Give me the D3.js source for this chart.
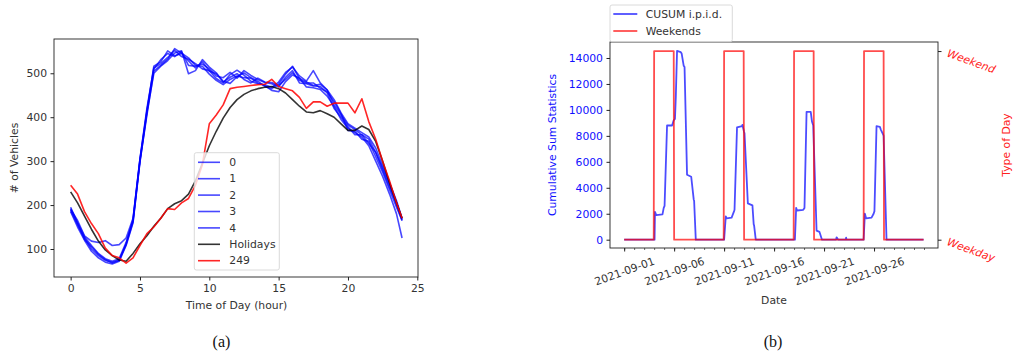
<!DOCTYPE html>
<html><head><meta charset="utf-8">
<script src="https://cdn.jsdelivr.net/npm/d3@7"></script>
<style>
body{margin:0;background:#fff;}
svg{display:block;font-family:"DejaVu Sans",sans-serif;}
</style></head>
<body><svg id="c" width="1013" height="355"></svg>
<script>
// ---------- Chart (a) data ----------
const hours = [0,0.5,1,1.5,2,2.5,3,3.5,4,4.5,5,5.5,6,6.5,7,7.5,8,8.5,9,9.5,10,10.5,11,11.5,12,12.5,13,13.5,14,14.5,15,15.5,16,16.5,17,17.5,18,18.5,19,19.5,20,20.5,21,21.5,22,22.5,23,23.5,23.9];
const weekday0 = [190,165,130,118,115,119,108,110,125,170,305,420,512,522,536,552,538,532,522,510,506,488,478,497,507,496,482,476,474,468,480,502,514,494,482,506,478,462,428,405,382,372,360,350,320,285,245,200,165];
const weekday1 = [185,150,120,95,80,70,66,72,108,160,300,405,505,518,532,556,546,535,518,516,498,484,474,486,494,490,489,478,472,461,458,481,496,489,469,467,463,448,424,395,375,365,355,335,300,265,225,180,125];
const weekday2 = [195,160,128,108,90,78,72,78,115,165,305,415,510,531,545,538,549,518,516,521,510,494,490,502,489,506,495,486,479,476,469,491,506,478,476,471,470,455,420,400,378,360,360,340,320,280,240,205,168];
const weekday3 = [188,155,125,100,85,74,70,75,110,162,298,410,500,516,529,546,551,499,506,531,514,501,480,491,499,486,478,489,480,479,472,486,501,484,478,478,466,458,435,408,370,368,350,345,310,275,235,195,165];
const weekday4 = [192,158,122,105,88,76,68,74,112,168,302,412,516,526,551,540,545,528,512,526,505,499,482,477,492,501,490,482,470,465,475,498,516,488,480,472,475,462,440,410,385,375,365,355,330,290,250,210,170];
const holidays = [230,205,175,145,118,98,85,75,72,90,112,130,152,170,192,203,210,225,255,295,335,368,398,422,440,452,460,465,468,470,465,455,440,425,412,410,415,408,400,385,370,370,380,372,345,300,250,205,170];
const day249  = [245,225,185,158,135,102,85,80,68,80,108,135,150,170,192,190,205,215,245,292,385,405,428,465,468,470,472,474,475,486,470,465,460,445,420,435,435,425,432,432,432,410,442,390,350,300,255,205,170];
const seriesA = [
  {name:"0", values:weekday0, color:"#0000ff", op:0.72},
  {name:"1", values:weekday1, color:"#0000ff", op:0.72},
  {name:"2", values:weekday2, color:"#0000ff", op:0.72},
  {name:"3", values:weekday3, color:"#0000ff", op:0.72},
  {name:"4", values:weekday4, color:"#0000ff", op:0.72},
  {name:"Holidays", values:holidays, color:"#000000", op:0.8},
  {name:"249", values:day249, color:"#ff0000", op:0.85}
];
const xTicksA = [0,5,10,15,20,25];
const yTicksA = [100,200,300,400,500];

// ---------- Chart (b) data ----------
const cusumTimes = ["2021-09-01T00","2021-09-04T01","2021-09-04T02","2021-09-04T05","2021-09-04T20","2021-09-04T23","2021-09-05T01","2021-09-05T07","2021-09-05T19","2021-09-05T23","2021-09-06T02","2021-09-06T04","2021-09-06T07","2021-09-06T16","2021-09-06T18","2021-09-06T23","2021-09-07T01","2021-09-07T07","2021-09-07T17","2021-09-07T23","2021-09-08T00","2021-09-08T04",
  "2021-09-11T00","2021-09-11T04","2021-09-11T06","2021-09-11T18","2021-09-12T00","2021-09-12T01","2021-09-12T07","2021-09-12T19","2021-09-12T20","2021-09-13T00","2021-09-13T01","2021-09-13T09","2021-09-13T20","2021-09-13T23","2021-09-14T00","2021-09-14T04",
  "2021-09-18T02","2021-09-18T05","2021-09-18T07","2021-09-18T22","2021-09-19T01","2021-09-19T06","2021-09-19T16","2021-09-19T19","2021-09-19T22","2021-09-20T06","2021-09-20T13","2021-09-20T14","2021-09-20T19",
  "2021-09-22T05","2021-09-22T06","2021-09-22T08","2021-09-22T10","2021-09-23T04","2021-09-23T05","2021-09-23T06",
  "2021-09-24T23","2021-09-25T02","2021-09-25T05","2021-09-25T18","2021-09-25T23","2021-09-26T01","2021-09-26T06","2021-09-26T14","2021-09-26T16","2021-09-26T22","2021-09-26T23","2021-09-27T06","2021-09-30T23"];
const cusumValues = [0,0,2150,1900,1950,2450,2600,8800,8800,9200,9300,11000,14550,14450,14350,13400,13300,5000,4850,3100,3000,0,
  0,1800,1650,1700,2200,2300,8650,8750,8850,8300,8200,2800,2650,1200,1100,0,
  0,2450,2250,2300,2450,9850,9850,9100,8800,700,600,500,0,
  0,180,100,0,0,150,0,
  0,2000,1650,1700,2000,2200,8750,8700,8500,8100,8000,0,0];
const weekendTimes = ["2021-09-01T00","2021-09-03T23","2021-09-04T00","2021-09-05T23","2021-09-06T00","2021-09-10T23","2021-09-11T00","2021-09-12T23","2021-09-13T00","2021-09-17T23","2021-09-18T00","2021-09-19T23","2021-09-20T00","2021-09-24T23","2021-09-25T00","2021-09-26T23","2021-09-27T00","2021-09-30T23"];
const weekendValues = [0,0,1,1,0,0,1,1,0,0,1,1,0,0,1,1,0,0];
const dateTicks = ["2021-09-01","2021-09-06","2021-09-11","2021-09-16","2021-09-21","2021-09-26"];
const cusumTicks = [0,2000,4000,6000,8000,10000,12000,14000];
const dayTypeTicks = [0,1];
const dayTypeLabels = ["Weekday","Weekend"];

// ---------- drawing ----------
const svg = d3.select("#c");
const FS = 10.8;
const axisCol = "#222";
const parse = s => new Date(s.length===10 ? s+"T00:00:00Z" : s+":00:00Z");

function styleAxis(g, col){
  g.select(".domain").remove();
  g.selectAll(".tick line").attr("stroke", axisCol);
  g.selectAll(".tick text").attr("fill", col || "#333").style("font-size", FS+"px").style("font-family","DejaVu Sans");
}

// ===== (a) =====
const A = {l:54, r:418, t:39, b:277};
const xa = d3.scaleLinear().domain([-1.2, 25.05]).range([A.l, A.r]);
const ya = d3.scaleLinear().domain([36.3, 578]).range([A.b, A.t]);
const ga = svg.append("g");
ga.append("g").attr("transform",`translate(0,${A.b})`)
  .call(d3.axisBottom(xa).tickValues(xTicksA).tickSize(3.5).tickPadding(3.5).tickFormat(d3.format("d")))
  .call(g=>styleAxis(g));
ga.append("g").attr("transform",`translate(${A.l},0)`)
  .call(d3.axisLeft(ya).tickValues(yTicksA).tickSize(3.5).tickPadding(3.5).tickFormat(d3.format("d")))
  .call(g=>styleAxis(g));
svg.append("clipPath").attr("id","clipA").append("rect")
  .attr("x",A.l).attr("y",A.t).attr("width",A.r-A.l).attr("height",A.b-A.t);
const lineA = d3.line().x((d,i)=>xa(hours[i])).y(d=>ya(d)).curve(d3.curveLinear);
ga.append("g").attr("clip-path","url(#clipA)").selectAll("path").data(seriesA).join("path")
  .attr("d", d=>lineA(d.values)).attr("fill","none").attr("stroke",d=>d.color)
  .attr("stroke-opacity",d=>d.op).attr("stroke-width",1.6).attr("stroke-linejoin","round");
ga.append("rect").attr("x",A.l).attr("y",A.t).attr("width",A.r-A.l).attr("height",A.b-A.t)
  .attr("fill","none").attr("stroke",axisCol).attr("stroke-width",0.9);
// legend
const LA = {x:194.3, y:152.7, w:85, h:117.3};
const lga = ga.append("g");
lga.append("rect").attr("x",LA.x).attr("y",LA.y).attr("width",LA.w).attr("height",LA.h)
  .attr("rx",2).attr("fill","#fff").attr("fill-opacity",0.8).attr("stroke","#d0d0d0").attr("stroke-width",0.8);
seriesA.forEach((s,i)=>{
  const yy = 162.3 + i*16.4;
  lga.append("line").attr("x1",198).attr("x2",220).attr("y1",yy).attr("y2",yy)
    .attr("stroke",s.color).attr("stroke-opacity",s.op).attr("stroke-width",1.6);
  lga.append("text").attr("x",229.3).attr("y",yy).attr("dy","0.35em").text(s.name)
    .attr("fill","#333").style("font-size",FS+"px");
});
ga.append("text").attr("x",236.5).attr("y",305).attr("text-anchor","middle").attr("dominant-baseline","central")
  .attr("fill","#333").style("font-size",FS+"px").text("Time of Day (hour)");
ga.append("text").attr("transform","translate(14,158) rotate(-90)").attr("text-anchor","middle").attr("dominant-baseline","central")
  .attr("fill","#333").style("font-size",FS+"px").text("# of Vehicles");

// ===== (b) =====
const B = {l:610, r:938, t:42, b:248};
const xb = d3.scaleUtc().domain([parse("2021-08-30T14"), new Date(Date.UTC(2021,9,2,9,36))]).range([B.l, B.r]);
const yb = d3.scaleLinear().domain([-640, 15232]).range([B.b, B.t]);
const yb2 = d3.scaleLinear().domain([-0.044, 1.048]).range([B.b, B.t]);
const gb = svg.append("g");
const minorDays = d3.utcDay.range(parse("2021-09-01"), parse("2021-10-01T01"));
gb.append("g").attr("transform",`translate(0,${B.b})`)
  .call(d3.axisBottom(xb).tickValues(minorDays).tickSize(2).tickFormat(""))
  .call(g=>{g.select(".domain").remove(); g.selectAll(".tick line").attr("stroke",axisCol).attr("stroke-width",0.7);});
const gx = gb.append("g").attr("transform",`translate(0,${B.b})`)
  .call(d3.axisBottom(xb).tickValues(dateTicks.map(parse)).tickSize(3.5).tickFormat(d3.utcFormat("%Y-%m-%d")))
  .call(g=>styleAxis(g));
gx.selectAll(".tick text").attr("y",0).attr("dy",null).attr("dominant-baseline","central")
  .attr("transform","translate(0,23.5) rotate(-20)");
gb.append("g").attr("transform",`translate(${B.l},0)`)
  .call(d3.axisLeft(yb).tickValues(cusumTicks).tickSize(3.5).tickPadding(3.5).tickFormat(d3.format("d")))
  .call(g=>styleAxis(g,"#1010ff"));
gb.append("g").attr("transform",`translate(${B.r},0)`)
  .call(d3.axisRight(yb2).tickValues(dayTypeTicks).tickSize(3.5).tickFormat(""))
  .call(g=>styleAxis(g));
dayTypeTicks.forEach((v,i)=>{
  gb.append("text").attr("transform",`translate(${B.r+10},${yb2(v)}) rotate(20)`)
    .attr("x",0).attr("y",0).attr("dy","0.5em").attr("fill","#ff2020").style("font-size",FS+"px")
    .style("font-style","italic").text(dayTypeLabels[i]);
});
svg.append("clipPath").attr("id","clipB").append("rect")
  .attr("x",B.l).attr("y",B.t).attr("width",B.r-B.l).attr("height",B.b-B.t);
const cusumPts = cusumTimes.map((t,i)=>[parse(t), cusumValues[i]]);
const weekendPts = weekendTimes.map((t,i)=>[parse(t), weekendValues[i]]);
const pb = gb.append("g").attr("clip-path","url(#clipB)");
pb.append("path").attr("d", d3.line().x(d=>xb(d[0])).y(d=>yb(d[1]))(cusumPts))
  .attr("fill","none").attr("stroke","#0000ff").attr("stroke-opacity",0.7).attr("stroke-width",1.8).attr("stroke-linejoin","round");
pb.append("path").attr("d", d3.line().x(d=>xb(d[0])).y(d=>yb2(d[1]))(weekendPts))
  .attr("fill","none").attr("stroke","#ff0000").attr("stroke-opacity",0.7).attr("stroke-width",1.8).attr("stroke-linejoin","round");
gb.append("rect").attr("x",B.l).attr("y",B.t).attr("width",B.r-B.l).attr("height",B.b-B.t)
  .attr("fill","none").attr("stroke",axisCol).attr("stroke-width",0.9);
const lgb = gb.append("g");
lgb.append("rect").attr("x",610).attr("y",5).attr("width",122.3).attr("height",36.7)
  .attr("rx",2).attr("fill","#fff").attr("fill-opacity",0.8).attr("stroke","#d0d0d0").attr("stroke-width",0.8);
[["CUSUM i.p.i.d.","#0000ff"],["Weekends","#ff0000"]].forEach((e,i)=>{
  const yy = 14 + i*17;
  lgb.append("line").attr("x1",613.3).attr("x2",637.3).attr("y1",yy).attr("y2",yy)
    .attr("stroke",e[1]).attr("stroke-opacity",0.7).attr("stroke-width",1.8);
  lgb.append("text").attr("x",645.7).attr("y",yy).attr("dy","0.35em").attr("fill","#333")
    .style("font-size",FS+"px").text(e[0]);
});
gb.append("text").attr("x",774).attr("y",300).attr("text-anchor","middle").attr("dominant-baseline","central")
  .attr("fill","#333").style("font-size",FS+"px").text("Date");
gb.append("text").attr("transform","translate(552.7,145) rotate(-90)").attr("text-anchor","middle").attr("dominant-baseline","central")
  .attr("fill","#1010ff").style("font-size",FS+"px").text("Cumulative Sum Statistics");
gb.append("text").attr("transform","translate(1006,145) rotate(-90)").attr("text-anchor","middle").attr("dominant-baseline","central")
  .attr("fill","#ff2020").style("font-size",FS+"px").text("Type of Day");

svg.append("text").attr("x",221.5).attr("y",347).attr("text-anchor","middle")
  .style("font-family","'Liberation Serif','DejaVu Serif',serif").style("font-size","16px").attr("fill","#111").text("(a)");
svg.append("text").attr("x",773).attr("y",347).attr("text-anchor","middle")
  .style("font-family","'Liberation Serif','DejaVu Serif',serif").style("font-size","16px").attr("fill","#111").text("(b)");
</script></body></html>
